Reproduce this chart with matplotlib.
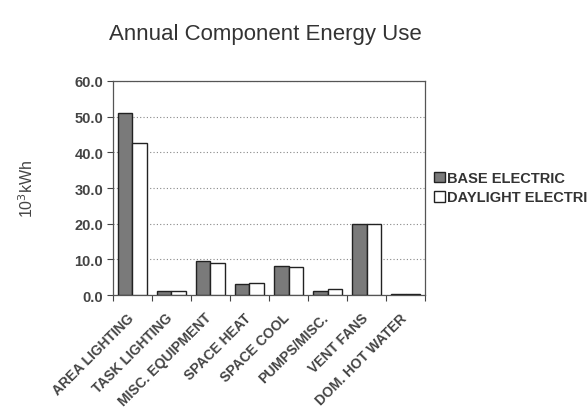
import matplotlib
matplotlib.use("Agg")
import matplotlib.pyplot as plt
import matplotlib.transforms as mtrans
import numpy as np

categories = ["AREA LIGHTING", "TASK LIGHTING", "MISC. EQUIPMENT", "SPACE HEAT",
              "SPACE COOL", "PUMPS/MISC.", "VENT FANS", "DOM. HOT WATER"]
base_electric = [51.0, 1.0, 9.6, 3.1, 8.1, 1.2, 19.8, 0.4]
daylight_electric = [42.5, 1.0, 8.9, 3.4, 7.8, 1.6, 19.8, 0.4]
yticks = [0, 10, 20, 30, 40, 50, 60]

plt.rcParams['font.family'] = ['Liberation Sans', 'DejaVu Sans']
fig = plt.figure(figsize=(5.88, 4.10), dpi=100)
ax = fig.add_axes([0.192, 0.278, 0.531, 0.522])

x = np.arange(len(categories))
w = 0.38
ax.bar(x - w/2, base_electric, w, color='#7a7a7a', edgecolor='#222222', linewidth=1.0,
       label='BASE ELECTRIC', zorder=3)
ax.bar(x + w/2, daylight_electric, w, color='white', edgecolor='#222222', linewidth=1.0,
       label='DAYLIGHT ELECTRIC', zorder=3)

ax.set_xlim(-0.5, len(categories) - 0.5)
ax.set_ylim(0, 60)
ax.set_yticks(yticks)
ax.set_yticklabels([f"{v:.1f}" for v in yticks], fontsize=10.5, fontweight='bold', color='#444444')
ax.yaxis.grid(True, linestyle=(0, (1, 2)), color='#888888', linewidth=0.8, zorder=0)

ax.set_xticks(np.arange(len(categories) + 1) - 0.5)
ax.set_xticklabels([])
ax.set_xticks(x, minor=True)
ax.set_xticklabels(categories, minor=True, rotation=45, ha='right', rotation_mode='anchor',
                   fontsize=10, fontweight='bold', color='#444444')
ax.tick_params(axis='x', which='minor', length=0, pad=11)
ax.tick_params(axis='x', which='major', length=4, direction='out', color='#444444')
ax.tick_params(axis='y', length=4, direction='out', color='#444444', pad=3)
offset = mtrans.ScaledTranslation(-0.06, 0, fig.dpi_scale_trans)
for lbl in ax.get_xticklabels(minor=True):
    lbl.set_transform(lbl.get_transform() + offset)
for s in ax.spines.values():
    s.set_color('#555555')
    s.set_linewidth(0.9)

ax.set_ylabel("10$^3$kWh", fontsize=11.5, color='#444444')
ax.yaxis.set_label_coords(-0.245, 0.5)
fig.text(0.451, 0.917, "Annual Component Energy Use", ha='center', va='center',
         fontsize=16, color='#333333')

leg = fig.legend(loc='upper left', bbox_to_anchor=(0.738, 0.58), frameon=False,
                 fontsize=10.5, handlelength=0.75, handleheight=0.75, handletextpad=0.15,
                 labelspacing=0.35, borderaxespad=0, borderpad=0)
for t in leg.get_texts():
    t.set_fontweight('bold')
    t.set_color('#333333')

fig.savefig("out.png", dpi=100)
